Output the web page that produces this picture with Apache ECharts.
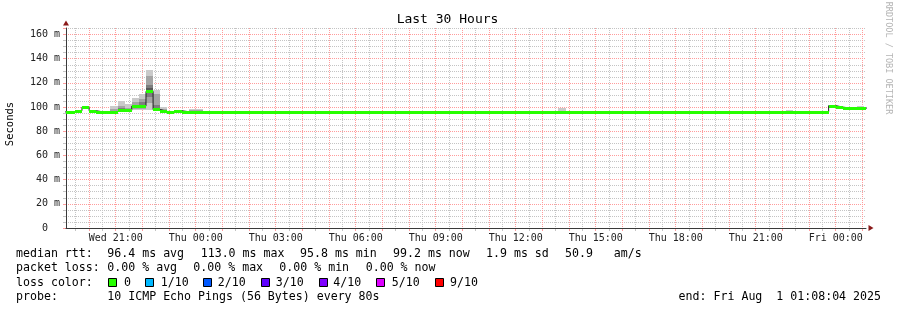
<!DOCTYPE html>
<html><head><meta charset="utf-8">
<script src="https://cdn.jsdelivr.net/npm/echarts@6/dist/echarts.min.js"></script>
<style>html,body{margin:0;padding:0;background:#fff}#c{width:897px;height:310px}</style>
</head><body><div id="c"></div>
<script>
// Time unit: minutes since Wed 2025-07-30 00:00
const startMin = 1148.067;   // Wed 19:08:04
const endMin = 2948.067;     // Fri 01:08:04
const yMax = 165.4;          // ms
const binStart0 = 1136;      // first 16-minute consolidation bin
const binWidth = 16;

// median rtt per 16-minute bin (ms)
const medianRtt = [
  96, 96, 97, 100, 97, 96, 96, 96.2, 97.5, 97.3,
  100.8, 100.8, 113, 98, 96.4, 96.3, 97, 96.2, 96.2, 96.2,
  96, 96, 96, 96, 96, 96, 96, 96, 96, 96, 96,
  96, 96, 96, 96, 96, 96, 96, 96, 96, 96, 96,
  96, 96, 96, 96, 96, 96, 96, 96, 96, 96, 96,
  96, 96, 96, 96, 96, 96, 96, 96, 96, 96, 96,
  96, 96, 96, 96, 96, 96, 96, 96, 96, 96, 96,
  96, 96, 96, 96, 96, 96, 96, 96, 96, 96, 96,
  95.8,
  96, 96, 96, 96, 96, 96, 96, 96, 96, 96, 96,
  96, 96, 96, 96, 96, 96, 96, 96, 96, 96,
  101.2, 100, 99.2, 99.2, 99.2, 99.2
];

// bins with visible smoke: start minute and the 10 sorted ping rtts (ms)
const smokeBinStart = [1248, 1264, 1280, 1296, 1312, 1328, 1344, 1360, 1424, 1440, 2256, 2768, 2928];
const smokePings = [
  [96.0, 96.0, 96.1, 96.2, 96.2, 96.2, 96.3, 96.5, 98.0, 101.0],
  [97.0, 97.3, 97.5, 97.5, 97.5, 97.5, 98.0, 99.0, 101.0, 105.2],
  [97.0, 97.2, 97.3, 97.3, 97.3, 97.3, 97.5, 98.0, 99.5, 102.2],
  [97.5, 98.0, 99.5, 100.5, 100.8, 100.8, 101.5, 102.0, 104.0, 107.7],
  [97.5, 98.0, 99.0, 100.0, 100.8, 100.8, 102.0, 104.0, 106.5, 110.5],
  [97.5, 103.0, 108.0, 111.5, 113.0, 113.2, 116.0, 118.0, 125.5, 130.8],
  [97.5, 97.8, 98.0, 98.0, 98.0, 98.2, 99.0, 101.6, 111.0, 114.0],
  [96.0, 96.2, 96.3, 96.4, 96.4, 96.4, 96.5, 97.0, 98.5, 100.3],
  [96.0, 96.0, 96.1, 96.2, 96.2, 96.2, 96.3, 96.5, 97.5, 98.8],
  [96.0, 96.0, 96.1, 96.2, 96.2, 96.2, 96.3, 96.5, 97.5, 98.8],
  [96.0, 96.0, 96.0, 96.0, 96.0, 96.0, 96.1, 96.3, 97.0, 99.4],
  [95.9, 96.0, 96.0, 96.0, 96.0, 96.0, 96.0, 96.2, 96.8, 97.6],
  [99.0, 99.1, 99.2, 99.2, 99.2, 99.2, 99.3, 99.5, 100.0, 100.6]
];
const smokeColors = ['#cacaca', '#a4a4a4', '#7e7e7e', '#585858', '#323232'];

// x axis labels
const xLabelPos = [1260, 1440, 1620, 1800, 1980, 2160, 2340, 2520, 2700, 2880];
const xLabelText = ['Wed 21:00', 'Thu 00:00', 'Thu 03:00', 'Thu 06:00', 'Thu 09:00',
                    'Thu 12:00', 'Thu 15:00', 'Thu 18:00', 'Thu 21:00', 'Fri 00:00'];
// y axis labels
const yLabelVals = [0, 20, 40, 60, 80, 100, 120, 140, 160];

// grid steps: x major every hour (red), minor on the half hours (grey); y major 20 ms, minor 5 ms
const hourStep = 60, yMajorStep = 20, yMinorStep = 5;
const phaseStep = 3 * hourStep;   // 3 h = a whole number of pixels, so lines stay pixel-aligned

// plot geometry
const plotLeft = 66, plotTop = 28, plotWidth = 800, plotHeight = 200;
const pxPerMin = plotWidth / (endMin - startMin);
const toPx = m => plotLeft + (m - startMin) * pxPerMin;

const MINOR = '#c4c4c4', MAJOR = '#ff9c9c';
const mono = '"DejaVu Sans Mono", monospace';

const medLine = medianRtt.map((v, i) => [binStart0 + i * binWidth, v]);
medLine.push([binStart0 + medianRtt.length * binWidth, medianRtt[medianRtt.length - 1]]);
const medBins = medianRtt.map((v, i) => [binStart0 + i * binWidth, binStart0 + (i + 1) * binWidth, v]);
const smokeData = smokeBinStart.map((s, i) => [s, s + binWidth].concat(smokePings[i]));

const grids = [{ left: plotLeft, top: plotTop, width: plotWidth, height: plotHeight }];
const xAxes = [{
  gridIndex: 0, type: 'value', min: startMin, max: endMin, position: 'bottom', z: 3,
  axisLine: { show: true, onZero: false, lineStyle: { color: '#3a3a3a', width: 1 } },
  axisTick: { show: false }, splitLine: { show: false },
  axisLabel: {
    customValues: xLabelPos,
    formatter: v => xLabelText[xLabelPos.indexOf(Math.round(v))],
    fontFamily: mono, fontSize: 10, color: '#222', margin: 5
  }
}, {
  gridIndex: 0, type: 'value', min: startMin, max: endMin, position: 'bottom', z: 4,
  axisLabel: { show: false },
  axisLine: { show: true, onZero: false, symbol: ['none', 'triangle'], symbolSize: [6, 5], symbolOffset: [0, 5],
    lineStyle: { color: '#8b1a1a', opacity: 0 } },
  axisTick: { show: false }, splitLine: { show: false }
}];
const yAxes = [{
  gridIndex: 0, type: 'value', min: 0, max: yMax, position: 'left', z: 3,
  axisLine: { show: true, onZero: false, lineStyle: { color: '#3a3a3a', width: 1 } },
  axisTick: { show: false }, splitLine: { show: false },
  axisLabel: {
    customValues: yLabelVals,
    formatter: v => v === 0 ? '0  ' : Math.round(v) + ' m',
    fontFamily: mono, fontSize: 10, color: '#222', margin: 6
  }
}, {
  gridIndex: 0, type: 'value', min: 0, max: yMax, interval: yMinorStep, position: 'left', z: 0,
  axisLabel: { show: false }, axisLine: { show: false, onZero: false },
  axisTick: { show: true, length: 3, lineStyle: { color: MINOR } },
  splitLine: { show: true, showMinLine: false, showMaxLine: false, lineStyle: { color: MINOR, type: [1, 1], width: 1 } }
}, {
  gridIndex: 0, type: 'value', min: 0, max: yMax, interval: yMajorStep, position: 'left', z: 1,
  axisLabel: { show: false },
  axisLine: { show: true, onZero: false, symbol: ['none', 'triangle'], symbolSize: [6, 5], symbolOffset: [0, 5],
    lineStyle: { color: '#8b1a1a', opacity: 0 } },
  axisTick: { show: true, length: 3, lineStyle: { color: MAJOR } },
  splitLine: { show: true, showMinLine: false, showMaxLine: false, lineStyle: { color: MAJOR, type: [1, 1], width: 1 } }
}];

// vertical grid: three phase-shifted helper grids per kind, each with a 3-hour interval
function addPhase(first, color, z) {
  const last = first + Math.floor((endMin - first) / phaseStep) * phaseStep;
  const gi = grids.length;
  grids.push({ left: Math.floor(toPx(first)) + 0.5, top: plotTop, width: (last - first) * pxPerMin, height: plotHeight });
  xAxes.push({
    gridIndex: gi, type: 'value', min: first, max: last, interval: phaseStep, position: 'bottom', z: z,
    axisLabel: { show: false }, axisLine: { show: false, onZero: false },
    axisTick: { show: true, length: 3, lineStyle: { color: color } },
    splitLine: { show: true, showMinLine: true, showMaxLine: true, lineStyle: { color: color, type: [1, 1], width: 1 } }
  });
  yAxes.push({ gridIndex: gi, type: 'value', min: 0, max: yMax, show: false });
}
const firstHour = Math.ceil(startMin / hourStep) * hourStep;
const firstHalf = firstHour - 30 >= startMin ? firstHour - 30 : firstHour + 30;
for (let p = 0; p < 3; p++) {
  addPhase(firstHalf + p * hourStep, MINOR, 0);
  addPhase(firstHour + p * hourStep, MAJOR, 1);
}

const chart = echarts.init(document.getElementById('c'), null, { renderer: 'canvas' });
chart.setOption({
  backgroundColor: '#ffffff',
  animation: false,
  grid: grids,
  xAxis: xAxes,
  yAxis: yAxes,
  series: [
    {
      type: 'custom', name: 'smoke', z: 2, clip: true, silent: true,
      xAxisIndex: 0, yAxisIndex: 0,
      encode: { x: [0, 1], y: [2, 11] },
      data: smokeData,
      renderItem: function (params, api) {
        const s = api.value(0), e = api.value(1);
        const children = [];
        for (let j = 0; j < 5; j++) {
          const lo = api.value(2 + j), hi = api.value(11 - j);
          const a = api.coord([s, hi]), b = api.coord([e, lo]);
          const x0 = Math.round(a[0]), x1 = Math.round(b[0]);
          const y0 = Math.round(a[1]), y1 = Math.round(b[1]);
          children.push({ type: 'rect', shape: { x: x0, y: y0, width: x1 - x0, height: Math.max(y1 - y0, 0) }, style: { fill: smokeColors[j] } });
        }
        return { type: 'group', children };
      }
    },
    {
      type: 'line', name: 'median', z: 3, step: 'end', symbol: 'none', silent: true,
      xAxisIndex: 0, yAxisIndex: 0,
      data: medLine, lineStyle: { color: '#202020', width: 1 }
    },
    {
      type: 'custom', name: 'loss0', z: 4, clip: true, silent: true,
      xAxisIndex: 0, yAxisIndex: 0,
      encode: { x: [0, 1], y: 2 },
      data: medBins,
      renderItem: function (params, api) {
        const a = api.coord([api.value(0), api.value(2)]);
        const b = api.coord([api.value(1), api.value(2)]);
        const x0 = Math.round(a[0]), x1 = Math.round(b[0]);
        const yc = Math.round(a[1]);
        return { type: 'rect', shape: { x: x0, y: yc - 1, width: x1 - x0, height: 3 }, style: { fill: '#26ff00' } };
      }
    }
  ],
  graphic: [
    { type: 'text', x: 447.5, y: 19.5, style: { text: 'Last 30 Hours', font: '13px ' + mono, fill: '#000', align: 'center', verticalAlign: 'middle' } },
    { type: 'text', x: 10, y: 124, rotation: Math.PI / 2, style: { text: 'Seconds', font: '10.5px ' + mono, fill: '#000', align: 'center', verticalAlign: 'middle' } },
    { type: 'text', x: 888.5, y: 58, rotation: -Math.PI / 2, style: { text: 'RRDTOOL / TOBI OETIKER', font: '8.5px ' + mono, fill: '#b4b4b4', align: 'center', verticalAlign: 'middle' } },

    { type: 'text', x: 16, y: 254, style: { text: 'median rtt:', font: '11.6px ' + mono, fill: '#000', verticalAlign: 'middle' } },
    { type: 'text', x: 107.3, y: 254, style: { text: '96.4 ms avg', font: '11.6px ' + mono, fill: '#000', verticalAlign: 'middle' } },
    { type: 'text', x: 200.7, y: 254, style: { text: '113.0 ms max', font: '11.6px ' + mono, fill: '#000', verticalAlign: 'middle' } },
    { type: 'text', x: 300, y: 254, style: { text: '95.8 ms min', font: '11.6px ' + mono, fill: '#000', verticalAlign: 'middle' } },
    { type: 'text', x: 393, y: 254, style: { text: '99.2 ms now', font: '11.6px ' + mono, fill: '#000', verticalAlign: 'middle' } },
    { type: 'text', x: 486, y: 254, style: { text: '1.9 ms sd', font: '11.6px ' + mono, fill: '#000', verticalAlign: 'middle' } },
    { type: 'text', x: 565, y: 254, style: { text: '50.9   am/s', font: '11.6px ' + mono, fill: '#000', verticalAlign: 'middle' } },

    { type: 'text', x: 16, y: 268, style: { text: 'packet loss:', font: '11.6px ' + mono, fill: '#000', verticalAlign: 'middle' } },
    { type: 'text', x: 107.3, y: 268, style: { text: '0.00 % avg', font: '11.6px ' + mono, fill: '#000', verticalAlign: 'middle' } },
    { type: 'text', x: 193.3, y: 268, style: { text: '0.00 % max', font: '11.6px ' + mono, fill: '#000', verticalAlign: 'middle' } },
    { type: 'text', x: 279.3, y: 268, style: { text: '0.00 % min', font: '11.6px ' + mono, fill: '#000', verticalAlign: 'middle' } },
    { type: 'text', x: 365.7, y: 268, style: { text: '0.00 % now', font: '11.6px ' + mono, fill: '#000', verticalAlign: 'middle' } },

    { type: 'text', x: 16, y: 282.5, style: { text: 'loss color:', font: '11.6px ' + mono, fill: '#000', verticalAlign: 'middle' } },
    { type: 'rect', shape: { x: 108.5, y: 278.5, width: 8, height: 8 }, style: { fill: '#26ff00', stroke: '#000', lineWidth: 1 } },
    { type: 'text', x: 124, y: 282.5, style: { text: '0', font: '11.6px ' + mono, fill: '#000', verticalAlign: 'middle' } },
    { type: 'rect', shape: { x: 145.5, y: 278.5, width: 8, height: 8 }, style: { fill: '#00b8ff', stroke: '#000', lineWidth: 1 } },
    { type: 'text', x: 160.7, y: 282.5, style: { text: '1/10', font: '11.6px ' + mono, fill: '#000', verticalAlign: 'middle' } },
    { type: 'rect', shape: { x: 203.5, y: 278.5, width: 8, height: 8 }, style: { fill: '#0059ff', stroke: '#000', lineWidth: 1 } },
    { type: 'text', x: 217.7, y: 282.5, style: { text: '2/10', font: '11.6px ' + mono, fill: '#000', verticalAlign: 'middle' } },
    { type: 'rect', shape: { x: 261.5, y: 278.5, width: 8, height: 8 }, style: { fill: '#5e00ff', stroke: '#000', lineWidth: 1 } },
    { type: 'text', x: 275.7, y: 282.5, style: { text: '3/10', font: '11.6px ' + mono, fill: '#000', verticalAlign: 'middle' } },
    { type: 'rect', shape: { x: 319.5, y: 278.5, width: 8, height: 8 }, style: { fill: '#7e00ff', stroke: '#000', lineWidth: 1 } },
    { type: 'text', x: 333.3, y: 282.5, style: { text: '4/10', font: '11.6px ' + mono, fill: '#000', verticalAlign: 'middle' } },
    { type: 'rect', shape: { x: 376.5, y: 278.5, width: 8, height: 8 }, style: { fill: '#dd00ff', stroke: '#000', lineWidth: 1 } },
    { type: 'text', x: 391.7, y: 282.5, style: { text: '5/10', font: '11.6px ' + mono, fill: '#000', verticalAlign: 'middle' } },
    { type: 'rect', shape: { x: 435.5, y: 278.5, width: 8, height: 8 }, style: { fill: '#ff0000', stroke: '#000', lineWidth: 1 } },
    { type: 'text', x: 450, y: 282.5, style: { text: '9/10', font: '11.6px ' + mono, fill: '#000', verticalAlign: 'middle' } },

    { type: 'text', x: 16, y: 296.5, style: { text: 'probe:', font: '11.6px ' + mono, fill: '#000', verticalAlign: 'middle' } },
    { type: 'text', x: 107.3, y: 296.5, style: { text: '10 ICMP Echo Pings (56 Bytes) every 80s', font: '11.6px ' + mono, fill: '#000', verticalAlign: 'middle' } },
    { type: 'text', x: 881, y: 296.5, style: { text: 'end: Fri Aug  1 01:08:04 2025', font: '11.6px ' + mono, fill: '#000', align: 'right', verticalAlign: 'middle' } }
  ]
});
</script>
</body></html>
